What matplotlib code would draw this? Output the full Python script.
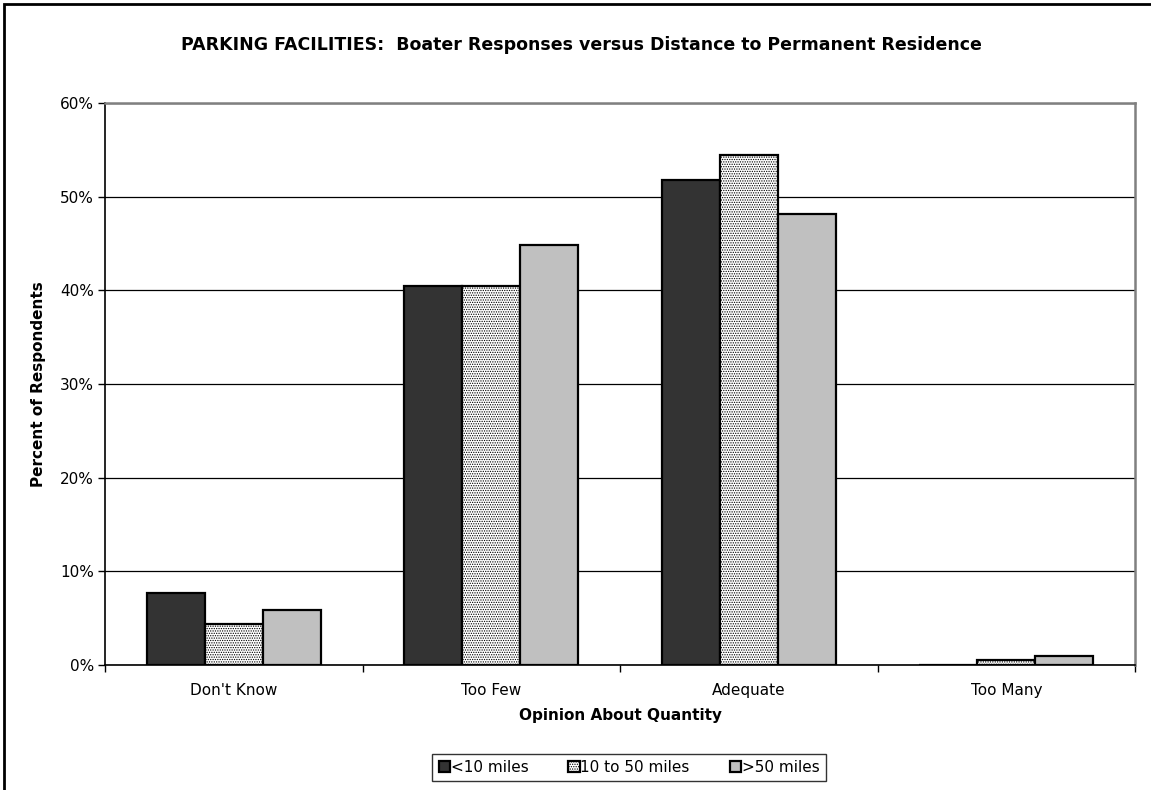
import matplotlib.pyplot as plt
import matplotlib.patches as mpatches
import numpy as np

plt.rcParams['font.family'] = ['DejaVu Sans']
plt.rcParams['hatch.color'] = '#8a8a8a'
plt.rcParams['hatch.linewidth'] = 0.6

categories = ["Don't Know", "Too Few", "Adequate", "Too Many"]
series_names = ["<10 miles", "10 to 50 miles", ">50 miles"]
under_10 = [7.7, 40.5, 51.8, 0.0]
from_10_to_50 = [4.4, 40.5, 54.5, 0.5]
over_50 = [5.9, 44.8, 48.1, 1.0]
y_ticks = [0, 10, 20, 30, 40, 50, 60]


def main():
    fig = plt.figure(figsize=(11.51, 7.9), dpi=100)
    ax = fig.add_axes([0.0912, 0.1582, 0.8950, 0.7114])

    # outer chart frame
    fig.patches.append(mpatches.Rectangle((4 / 1151, -0.1), 1.2, 1.1 - 4 / 790,
                                          transform=fig.transFigure, fill=False,
                                          edgecolor='black', linewidth=2))

    x = np.arange(len(categories))
    w = 0.225
    styles = [
        dict(color='#333333', hatch=None),
        dict(color='white', hatch='.......'),
        dict(color='#c0c0c0', hatch=None),
    ]
    handles = []
    for i, (vals, name, st) in enumerate(zip([under_10, from_10_to_50, over_50], series_names, styles)):
        bars = ax.bar(x + (i - 1) * w, vals, width=w, color=st['color'], hatch=st['hatch'],
                      edgecolor='black', linewidth=1.6, zorder=3, label=name)
        handles.append(bars)

    ax.set_xlim(-0.5, len(categories) - 0.5)
    ax.set_ylim(0, 60)
    ax.set_yticks(y_ticks)
    ax.set_yticklabels([f'{t}%' for t in y_ticks], fontsize=11)
    ax.yaxis.grid(True, color='black', linewidth=0.9, zorder=0)
    ax.set_axisbelow(True)

    ax.set_xticks(x)
    ax.set_xticklabels(categories, fontsize=11)
    ax.tick_params(axis='x', length=0, pad=13)
    ax.set_xticks(np.arange(-0.5, len(categories)), minor=True)
    ax.tick_params(axis='x', which='minor', length=5, width=1)
    ax.tick_params(axis='y', length=5, width=1, pad=3)

    for side in ['left', 'bottom']:
        ax.spines[side].set_linewidth(1.2)
        ax.spines[side].set_color('black')
    for side in ['top', 'right']:
        ax.spines[side].set_linewidth(1.8)
        ax.spines[side].set_color('#808080')

    ax.set_xlabel('Opinion About Quantity', fontsize=11, fontweight='bold', labelpad=7)
    ax.set_ylabel('Percent of Respondents', fontsize=11, fontweight='bold', labelpad=10)
    fig.text(0.505, 0.943, 'PARKING FACILITIES:  Boater Responses versus Distance to Permanent Residence',
             ha='center', va='center', fontsize=12.5, fontweight='bold')

    leg = fig.legend(handles=handles, loc='center', bbox_to_anchor=(0.5465, 0.0285), ncol=3,
                     fontsize=11, frameon=True, fancybox=False, edgecolor='black',
                     handlelength=0.75, handleheight=0.75, handletextpad=0.05,
                     columnspacing=2.6, borderpad=0.4)
    leg.get_frame().set_linewidth(1.0)

    fig.savefig('out.png', dpi=100)


if __name__ == '__main__':
    main()
